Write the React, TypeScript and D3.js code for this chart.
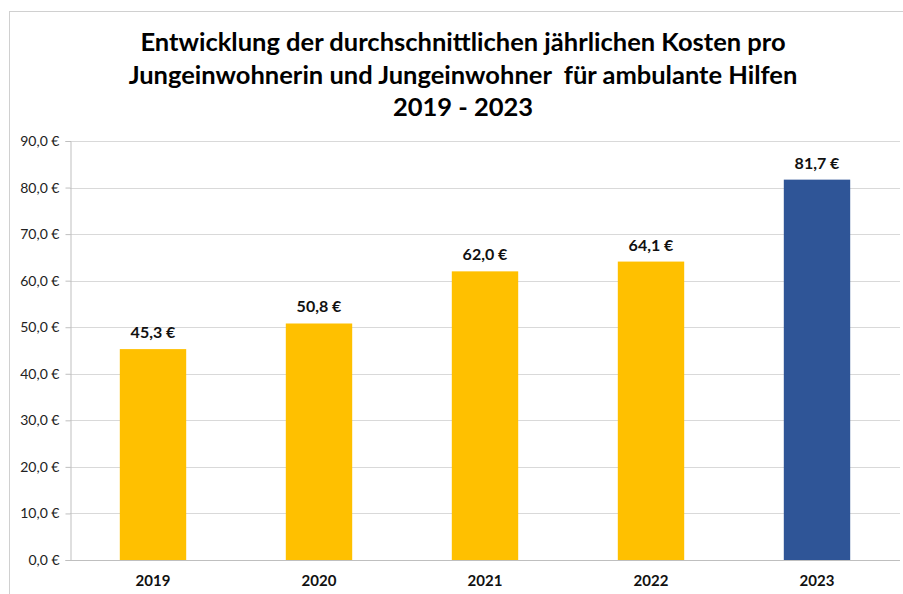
import React, { useEffect, useRef } from 'react';
import * as d3 from 'd3';

const years = ['2019', '2020', '2021', '2022', '2023'];
const costs = [45.3, 50.8, 62.0, 64.1, 81.7];
const barColors = ['#FFC000', '#FFC000', '#FFC000', '#FFC000', '#2F5597'];
const yTicks = [0, 10, 20, 30, 40, 50, 60, 70, 80, 90];
const titleLines = [
  'Entwicklung der durchschnittlichen jährlichen Kosten pro',
  'Jungeinwohnerin und Jungeinwohner  für ambulante Hilfen',
  '2019 - 2023',
];

const fmt = (v: number) => v.toFixed(1).replace('.', ',') + ' €';

const App = () => {
  const chartRef = useRef<SVGSVGElement>(null);

  useEffect(() => {
    drawChart();
  }, []);

  const drawChart = () => {
    const svg = d3.select(chartRef.current);
    svg.selectAll('*').remove();

    const font = 'Lato, "Open Sans", sans-serif';
    const plot = { left: 70, right: 900, top: 141, bottom: 560 };

    // outer frame
    svg.append('rect')
      .attr('x', 9.5).attr('y', 11.5)
      .attr('width', 900).attr('height', 600)
      .attr('fill', 'white')
      .attr('stroke', '#d0d0d0');

    svg.selectAll('.title')
      .data(titleLines)
      .enter().append('text')
      .attr('x', 463)
      .attr('y', (d, i) => 51 + i * 32.5)
      .attr('text-anchor', 'middle')
      .style('font-family', font)
      .style('font-weight', 'bold')
      .style('font-size', '25.5px')
      .style('white-space', 'pre')
      .attr('fill', '#000')
      .text(d => d);

    const x = d3.scaleBand()
      .domain(years)
      .range([plot.left, plot.right])
      .paddingInner(0.6)
      .paddingOuter(0.3);

    const y = d3.scaleLinear()
      .domain([0, 90])
      .range([plot.bottom, plot.top]);

    // gridlines
    svg.selectAll('.grid')
      .data(yTicks.filter(t => t > 0))
      .enter().append('line')
      .attr('x1', plot.left).attr('x2', plot.right)
      .attr('y1', d => Math.round(y(d)) + 0.5)
      .attr('y2', d => Math.round(y(d)) + 0.5)
      .attr('stroke', '#d9d9d9');

    const yAxis = svg.append('g')
      .attr('transform', `translate(${plot.left + 0.5},0)`)
      .call(d3.axisLeft(y).tickValues(yTicks).tickFormat(d => fmt(+d)).tickSize(5).tickPadding(6));
    yAxis.select('.domain').attr('stroke', '#bfbfbf');
    yAxis.selectAll('.tick line').attr('stroke', '#bfbfbf');
    yAxis.selectAll('.tick text')
      .style('font-family', font)
      .style('font-size', '14px')
      .attr('fill', '#222');

    svg.selectAll('.bar')
      .data(costs)
      .enter().append('rect')
      .attr('class', 'bar')
      .attr('x', (d, i) => x(years[i])!)
      .attr('y', d => y(d))
      .attr('width', x.bandwidth())
      .attr('height', d => y(0) - y(d))
      .attr('fill', (d, i) => barColors[i]);

    svg.append('line')
      .attr('x1', plot.left).attr('x2', plot.right)
      .attr('y1', plot.bottom + 0.5).attr('y2', plot.bottom + 0.5)
      .attr('stroke', '#bfbfbf');

    svg.selectAll('.label')
      .data(costs)
      .enter().append('text')
      .attr('x', (d, i) => x(years[i])! + x.bandwidth() / 2)
      .attr('y', d => y(d) - 11)
      .attr('text-anchor', 'middle')
      .style('font-family', font)
      .style('font-weight', 'bold')
      .style('font-size', '16px')
      .attr('fill', '#111')
      .text(d => fmt(d));

    svg.selectAll('.xlab')
      .data(years)
      .enter().append('text')
      .attr('x', d => x(d)! + x.bandwidth() / 2)
      .attr('y', 586)
      .attr('text-anchor', 'middle')
      .style('font-family', font)
      .style('font-weight', 'bold')
      .style('font-size', '15px')
      .attr('fill', '#111')
      .text(d => d);
  };

  return (
    <svg ref={chartRef} width={903} height={594}
      style={{ position: 'absolute', left: 0, top: 0, background: 'white' }} />
  );
};

export default App;
